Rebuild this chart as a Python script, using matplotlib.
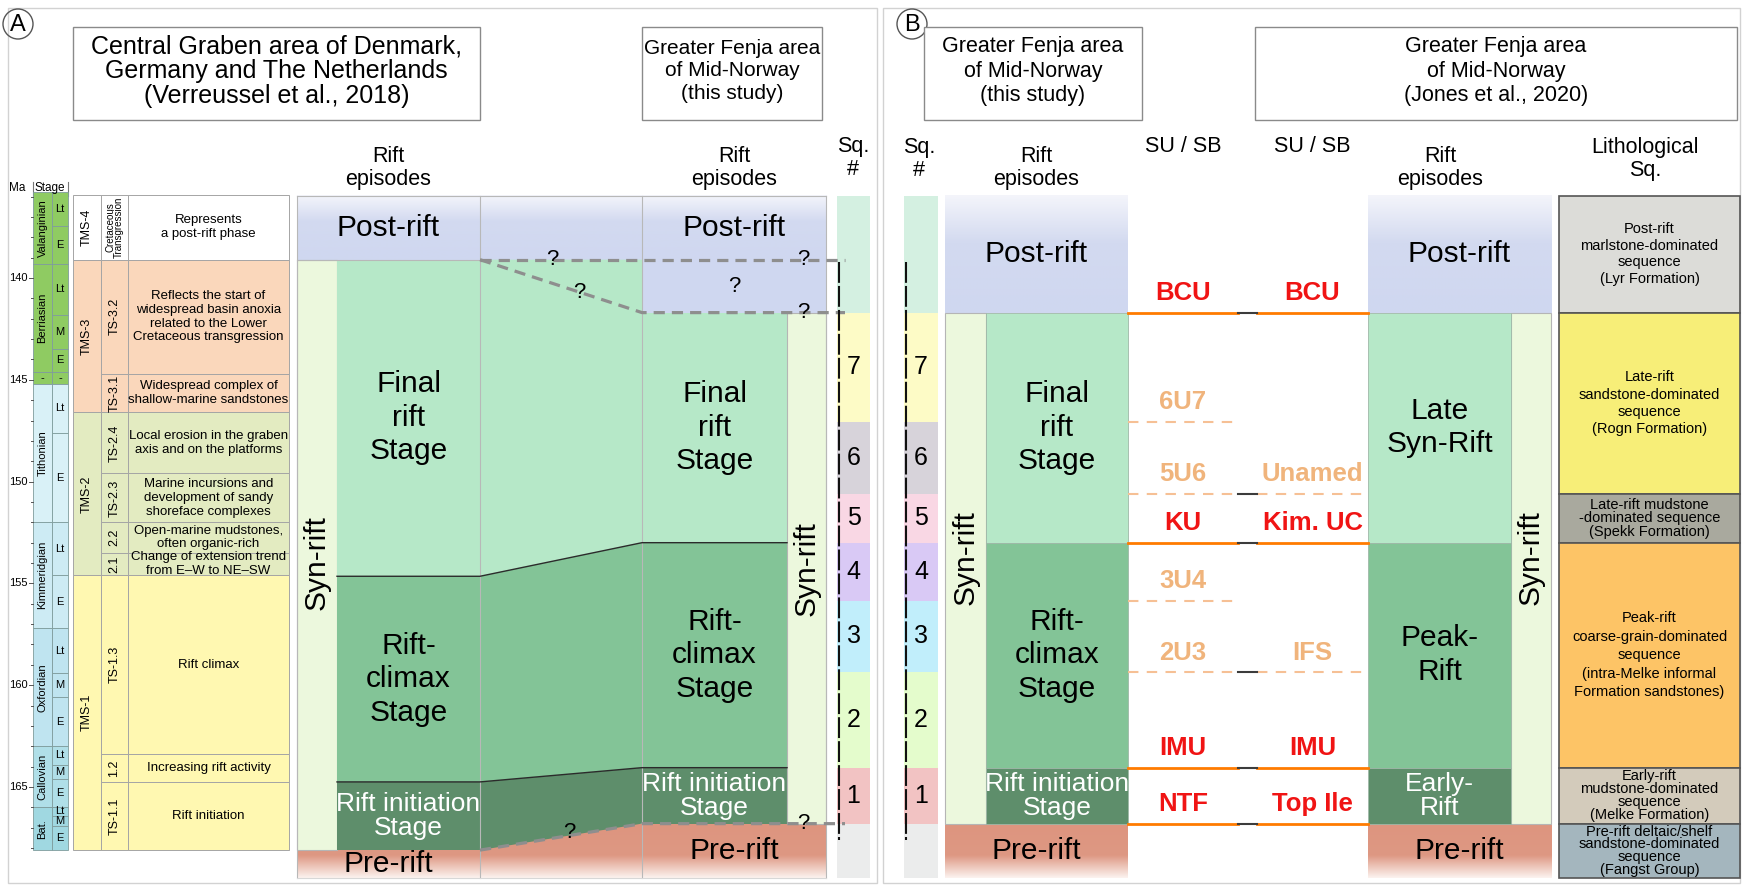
import numpy as np
import matplotlib.pyplot as plt
import matplotlib.transforms as mtransforms
from matplotlib.patches import Rectangle, Polygon, Circle
from matplotlib.colors import to_rgb

plt.rcParams['font.family'] = ['Liberation Sans', 'DejaVu Sans']

# ---------------- data (ages in Ma) ----------------
stage_names = ['Valanginian', 'Berriasian', '-', 'Tithonian', 'Kimmeridgian',
               'Oxfordian', 'Callovian', 'Bat.']
stage_tops = [135.8, 139.3, 144.6, 145.2, 152.0, 157.2, 163.0, 166.0]
stage_colors = ['#8fcb62', '#8fcb62', '#8fcb62', '#d9f1f7', '#cdebf4',
                '#bfe4f0', '#b0dfe8', '#a0d8e1']
sub_names = ['Lt', 'E', 'Lt', 'M', 'E', '-', 'Lt', 'E', 'Lt', 'E',
             'Lt', 'M', 'E', 'Lt', 'M', 'E', 'Lt', 'M', 'E']
sub_tops = [135.8, 137.45, 139.3, 141.8, 143.5, 144.6, 145.2, 147.6, 152.0, 154.6,
            157.2, 159.4, 160.6, 163.0, 163.9, 164.6, 166.0, 166.4, 166.9]
scale_base = 168.1
ma_labels = [140, 145, 150, 155, 160, 165]

tms_names = ['TMS-4', 'TMS-3', 'TMS-2', 'TMS-1']
tms_tops = [135.9, 139.1, 146.6, 154.6]
tms_colors = ['#ffffff', '#fad7bb', '#e3ebc1', '#fff8b1']
ts_names = ['Cretaceous\nTransgression', 'TS-3.2', 'TS-3.1', 'TS-2.4', 'TS-2.3',
            '2.2', '2.1', 'TS-1.3', '1.2', 'TS-1.1']
ts_tops = [135.9, 139.1, 144.7, 146.6, 149.6, 152.0, 153.5, 154.6, 163.4, 164.75]
ts_text = ['Represents\na post-rift phase',
           'Reflects the start of\nwidespread basin anoxia\nrelated to the Lower\nCretaceous transgression',
           'Widespread complex of\nshallow-marine sandstones',
           'Local erosion in the graben\naxis and on the platforms',
           'Marine incursions and\ndevelopment of sandy\nshoreface complexes',
           'Open-marine mudstones,\noften organic-rich',
           'Change of extension trend\nfrom E\u2013W to NE\u2013SW',
           'Rift climax', 'Increasing rift activity', 'Rift initiation']
tms_base = 168.1

ep_labels = ['Post-rift', 'Final\nrift\nStage', 'Rift-\nclimax\nStage',
             'Rift initiation\nStage', 'Pre-rift']
jones_labels = ['Post-rift', 'Late\nSyn-Rift', 'Peak-\nRift', 'Early-\nRift', 'Pre-rift']
ep_colors = ['#cfd7f0', '#b6e8c8', '#83c497', '#5e8e6b', '#dd957f']
syn_color = '#ecf8dd'
cg_tops = [135.95, 139.1, 154.65, 164.75, 168.1]      # Verreussel et al. 2018
fenja_tops = [135.95, 141.7, 153.0, 164.05, 166.8]    # this study / Jones et al. 2020
fenja_uncertain = [139.1, 141.7]
ep_base = 169.45

seq_labels = ['', '7', '6', '5', '4', '3', '2', '1', '']
seq_tops = [135.95, 141.7, 147.05, 150.6, 153.0, 155.85, 159.35, 164.05, 166.8]
seq_colors = ['#d4f0e1', '#fdfbc6', '#d7d3da', '#f9d7e4', '#d9c9f5',
              '#c1eefb', '#e4fccc', '#f2c3c3', '#ebecec']

su_this = ['BCU', '6U7', '5U6', 'KU', '3U4', '2U3', 'IMU', 'NTF']
su_jones = ['BCU', '', 'Unamed', 'Kim. UC', '', 'IFS', 'IMU', 'Top Ile']
su_age = [141.7, 147.05, 150.6, 153.0, 155.85, 159.35, 164.05, 166.8]
su_major = [True, False, False, True, False, False, True, True]

lith_text = ['Post-rift\nmarlstone-dominated\nsequence\n(Lyr Formation)',
             'Late-rift\nsandstone-dominated\nsequence\n(Rogn Formation)',
             'Late-rift mudstone\n-dominated sequence\n(Spekk Formation)',
             'Peak-rift\ncoarse-grain-dominated\nsequence\n(intra-Melke informal\nFormation sandstones)',
             'Early-rift\nmudstone-dominated\nsequence\n(Melke Formation)',
             'Pre-rift deltaic/shelf\nsandstone-dominated\nsequence\n(Fangst Group)']
lith_tops = [135.95, 141.7, 150.6, 153.0, 164.05, 166.8]
lith_colors = ['#dcdcd8', '#f7ee78', '#a9a99e', '#fdc466', '#d3cbbb', '#a4b6be']
lith_spacing = [1.25, 1.3, 0.95, 1.4, 0.9, 0.88]

# ---------------- figure ----------------
W, H = 1742, 890
fig = plt.figure(figsize=(W / 100, H / 100), dpi=100)
ax = fig.add_axes([0, 0, 1, 1])
ax.axis('off')
# pixel coordinates (origin top-left) for the page furniture
pix = mtransforms.Affine2D().scale(1 / W, -1 / H).translate(0, 1) + fig.transFigure


def rect(x0, x1, top, bot, fc, ec='none', lw=0.8, z=2):
    ax.add_patch(Rectangle((x0, top), x1 - x0, bot - top, fc=fc, ec=ec, lw=lw, zorder=z))


def gradient(x0, x1, top, bot, fracs, colors, z=1):
    f = np.linspace(0, 1, 256)
    rgb = np.array([to_rgb(c) for c in colors])
    img = np.stack([np.interp(f, fracs, rgb[:, k]) for k in range(3)], axis=-1)[:, None, :]
    ax.imshow(img, extent=(x0, x1, bot, top), origin='upper', aspect='auto',
              interpolation='bilinear', zorder=z)


def post_rift(x0, x1, top, bot):
    gradient(x0, x1, top, bot, [0, 0.4, 1], ['#f4f5fb', '#d3daf0', '#cfd7f0'])


def pre_rift(x0, x1, top, bot):
    gradient(x0, x1, top, bot, [0, 0.58, 1], ['#dd957f', '#de9883', '#fcf3f0'])


def txt(x, y, s, size, **kw):
    kw.setdefault('ha', 'center')
    kw.setdefault('va', 'center')
    kw.setdefault('zorder', 7)
    ax.text(x, y, s, fontsize=size, **kw)


def mid(a, b):
    return (a + b) / 2


BIG = 21.5

# panel frames, letters, header boxes
for x0, x1 in [(8, 877), (883, 1740)]:
    ax.add_patch(Rectangle((x0, 8), x1 - x0, 875, fill=False, ec='#d2d2d2', lw=1,
                           transform=pix, zorder=0))
for cx, letter in [(18, 'A'), (912, 'B')]:
    ax.add_patch(Circle((cx, 24), 15, fill=False, ec='#555555', lw=1, transform=pix, zorder=8))
    ax.text(cx, 25, letter, fontsize=17, ha='center', va='center', transform=pix, zorder=8)

headers = [((73, 480), 'Central Graben area of Denmark,\nGermany and The Netherlands\n(Verreussel et al., 2018)', 18),
           ((642, 822), 'Greater Fenja area\nof Mid-Norway\n(this study)', 15),
           ((924, 1142), 'Greater Fenja area\nof Mid-Norway\n(this study)', 15.5),
           ((1255, 1737), 'Greater Fenja area\nof Mid-Norway\n(Jones et al., 2020)', 15.5)]
for (x0, x1), s, fs in headers:
    ax.add_patch(Rectangle((x0, 27), x1 - x0, 93, fc='white', ec='#8a8a8a', lw=1,
                           transform=pix, zorder=8))
    ax.text(mid(x0, x1), 71, s, fontsize=fs, linespacing=18.7 / fs, ha='center', va='center',
            transform=pix, zorder=9)

col_titles = [(388, 168, 'Rift\nepisodes'), (734, 168, 'Rift\nepisodes'), (853, 158, 'Sq.\n#'),
              (919, 159, 'Sq.\n#'), (1036, 168, 'Rift\nepisodes'), (1183, 146, 'SU / SB'),
              (1312, 146, 'SU / SB'), (1440, 168, 'Rift\nepisodes'), (1645, 159, 'Lithological\nSq.')]
for x, y, s in col_titles:
    ax.text(x, y, s, fontsize=15.5, linespacing=1.12, ha='center', va='center',
            transform=pix, zorder=9)

# ---------------- geological time scale ----------------
SX = (33, 52, 68)
ax.text(17, 188, 'Ma', fontsize=8.5, ha='center', va='center', transform=pix)
ax.text(50, 188, 'Stage', fontsize=8.5, ha='center', va='center', transform=pix)
for x in (SX[0], SX[2]):
    ax.plot([x, x], [182, 196], color='#777777', lw=0.8, transform=pix)

st_bounds = stage_tops + [scale_base]
for i, name in enumerate(stage_names):
    rect(SX[0], SX[1], st_bounds[i], st_bounds[i + 1], stage_colors[i], ec='#7f9c9c', lw=0.6)
    rot = 0 if len(name) < 2 else 90
    txt(mid(SX[0], SX[1]), mid(st_bounds[i], st_bounds[i + 1]), name, 8, rotation=rot)
sub_bounds = sub_tops + [scale_base]
for i, name in enumerate(sub_names):
    k = np.searchsorted(stage_tops, sub_tops[i], side='right') - 1
    rect(SX[1], SX[2], sub_bounds[i], sub_bounds[i + 1], stage_colors[k], ec='#7f9c9c', lw=0.6)
    txt(mid(SX[1], SX[2]), mid(sub_bounds[i], sub_bounds[i + 1]), name, 8)
for m in range(136, 169):
    major = m in ma_labels
    ax.plot([SX[0] - (4 if major else 2), SX[0]], [m, m], color='#555555', lw=0.7, zorder=3)
    if major:
        txt(SX[0] - 5, m, str(m), 8, ha='right')

# ---------------- TMS table ----------------
TX = (73, 101, 128, 289)
tms_b = tms_tops + [tms_base]
for i, name in enumerate(tms_names):
    rect(TX[0], TX[1], tms_b[i], tms_b[i + 1], tms_colors[i], ec='#a5a5a5', lw=0.7)
    txt(mid(TX[0], TX[1]), mid(tms_b[i], tms_b[i + 1]), name, 9, rotation=90)
ts_b = ts_tops + [tms_base]
for i, name in enumerate(ts_names):
    k = np.searchsorted(tms_tops, ts_tops[i], side='right') - 1
    rect(TX[1], TX[2], ts_b[i], ts_b[i + 1], tms_colors[k], ec='#a5a5a5', lw=0.7)
    rect(TX[2], TX[3], ts_b[i], ts_b[i + 1], tms_colors[k], ec='#a5a5a5', lw=0.7)
    small = '\n' in name
    txt(mid(TX[1], TX[2]), mid(ts_b[i], ts_b[i + 1]), name, 7 if small else 9,
        rotation=90, linespacing=0.85)
    txt(mid(TX[2], TX[3]), mid(ts_b[i], ts_b[i + 1]), ts_text[i], 9.5, linespacing=1.2)

# ---------------- panel A: rift episodes ----------------
CG = (297, 337, 480)
FJ = (642, 787, 826)
SQA = (837, 870)

post_rift(CG[0], FJ[2], cg_tops[0], cg_tops[1])
pre_rift(CG[0], FJ[2], fenja_tops[4], ep_base)
rect(FJ[0], FJ[2], fenja_uncertain[0], fenja_uncertain[1], ep_colors[0])
rect(CG[0], CG[1], cg_tops[1], cg_tops[4], syn_color, ec='#b5b5b5')
for i in (1, 2, 3):
    rect(CG[1], CG[2], cg_tops[i], cg_tops[i + 1], ep_colors[i])
    top_r = fenja_uncertain[0] if i == 1 else fenja_tops[i]
    ax.add_patch(Polygon([(CG[2], cg_tops[i]), (FJ[0], top_r), (FJ[0], fenja_tops[i + 1]),
                          (CG[2], cg_tops[i + 1])], closed=True, fc=ep_colors[i], ec='none', zorder=2))
    rect(FJ[0], FJ[1], fenja_tops[i], fenja_tops[i + 1], ep_colors[i])
rect(FJ[1], FJ[2], fenja_tops[1], fenja_tops[4], syn_color, ec='#b5b5b5')

for x in (CG[0], CG[2], FJ[0], FJ[2]):
    ax.plot([x, x], [cg_tops[0], ep_base], color='#b8b8b8', lw=0.8, zorder=3)
ax.plot([CG[0], FJ[2]], [cg_tops[0]] * 2, color='#b8b8b8', lw=0.8, zorder=3)
ax.plot([CG[0], FJ[2]], [ep_base] * 2, color='#d8d8d8', lw=0.8, zorder=3)
ax.plot([CG[0], CG[2]], [cg_tops[1]] * 2, color='#b8b8b8', lw=0.8, zorder=3)
for i in (2, 3):
    ax.plot([CG[1], CG[2], FJ[0], FJ[1]], [cg_tops[i], cg_tops[i], fenja_tops[i], fenja_tops[i]],
            color='#2b2b2b', lw=1.0, zorder=4)

dash = dict(color='#8e8e8e', lw=2.3, ls=(0, (3.5, 2.2)), zorder=5, solid_capstyle='butt')
ax.plot([CG[2], SQA[0] + 8], [fenja_uncertain[0]] * 2, **dash)
ax.plot([CG[2], FJ[0], SQA[0] + 8], [cg_tops[1], fenja_uncertain[1], fenja_uncertain[1]], **dash)
ax.plot([CG[2], FJ[0], SQA[0] + 8], [cg_tops[4], fenja_tops[4], fenja_tops[4]], **dash)

q = dict(fontsize=16, ha='center', va='center', zorder=7)
ax.text(552, fenja_uncertain[0], '?', **q)
ax.text(579, np.interp(579, [CG[2], FJ[0]], [cg_tops[1], fenja_uncertain[1]]), '?', **q)
ax.text(mid(FJ[0], FJ[2]), mid(*fenja_uncertain), '?', **q)
ax.text(803, fenja_uncertain[0], '?', **q)
ax.text(803, fenja_uncertain[1], '?', **q)
ax.annotate('?', (569, np.interp(569, [CG[2], FJ[0]], [cg_tops[4], fenja_tops[4]])),
            xytext=(0, 2), textcoords='offset points', **q)
ax.text(803, fenja_tops[4], '?', **q)

# labels, Central Graben column
txt(mid(CG[0], CG[2]), mid(cg_tops[0], cg_tops[1]), ep_labels[0], BIG)
txt(mid(CG[0], CG[1]), mid(cg_tops[1], cg_tops[4]) + 0.4, 'Syn-rift', BIG, rotation=90)
for i in (1, 2, 3):
    txt(mid(CG[1], CG[2]), mid(cg_tops[i], cg_tops[i + 1]), ep_labels[i], BIG if i < 3 else 19,
        color='white' if i == 3 else 'black', linespacing=1.25 if i < 3 else 1.0)
txt(mid(CG[0], CG[2]), mid(cg_tops[4], ep_base), ep_labels[4], BIG)
# labels, Fenja column
txt(mid(FJ[0], FJ[2]), mid(fenja_tops[0], fenja_uncertain[0]), ep_labels[0], BIG)
txt(mid(FJ[1], FJ[2]), mid(fenja_tops[1], fenja_tops[4]), 'Syn-rift', BIG, rotation=90)
for i in (1, 2, 3):
    txt(mid(FJ[0], FJ[1]), mid(fenja_tops[i], fenja_tops[i + 1]), ep_labels[i], BIG if i < 3 else 19,
        color='white' if i == 3 else 'black', linespacing=1.25 if i < 3 else 1.0)
txt(mid(FJ[0], FJ[2]), mid(fenja_tops[4], ep_base), ep_labels[4], BIG)


def seq_column(x0, x1):
    b = seq_tops + [ep_base]
    for i, lab in enumerate(seq_labels):
        rect(x0, x1, b[i], b[i + 1], seq_colors[i])
        if lab:
            txt(mid(x0, x1), mid(b[i], b[i + 1]), lab, 18)
    ax.plot([x0 + 1.5] * 2, [fenja_uncertain[0] + 0.1, ep_base - 1.85], color='#111111',
            lw=1.5, ls=(0, (10, 1.5)), zorder=6)


seq_column(*SQA)

# ---------------- panel B ----------------
SQB = (904, 938)
EB = (945, 986, 1128)
SU1 = (1128, 1238)
SU2 = (1257, 1368)
JB = (1368, 1511, 1551)
LI = (1559, 1740)

seq_column(*SQB)


def episode_column(x0, x_syn, x1, labels, syn_left):
    t = fenja_tops
    post_rift(x0, x1, t[0], t[1])
    pre_rift(x0, x1, t[4], ep_base)
    sx0, sx1 = (x0, x_syn) if syn_left else (x_syn, x1)
    bx0, bx1 = (x_syn, x1) if syn_left else (x0, x_syn)
    rect(sx0, sx1, t[1], t[4], syn_color, ec='#b5b5b5')
    for i in (1, 2, 3):
        rect(bx0, bx1, t[i], t[i + 1], ep_colors[i], ec='#9fb8a8', lw=0.6)
        txt(mid(bx0, bx1), mid(t[i], t[i + 1]), labels[i], BIG if i < 3 else 19,
            color='white' if i == 3 else 'black', linespacing=1.25 if i < 3 else 1.0)
    txt(mid(sx0, sx1), mid(t[1], t[4]) - 0.5, 'Syn-rift', BIG, rotation=90)
    txt(mid(x0, x1), mid(t[0], t[1]), labels[0], BIG)
    txt(mid(x0, x1), mid(t[4], ep_base), labels[4], BIG)


episode_column(*EB, ep_labels, True)
episode_column(*JB, jones_labels, False)

for a, b, age, major in zip(su_this, su_jones, su_age, su_major):
    if major:
        style = dict(color='#ff7b00', lw=2.0, zorder=4)
        tc = '#f01414'
    else:
        style = dict(color='#f6c095', lw=1.5, ls=(0, (5, 4)), zorder=4)
        tc = '#f0b47c'
    for (x0, x1), name in [(SU1, a), (SU2, b)]:
        if not name:
            continue
        ax.plot([x0, x1], [age, age], **style)
        ax.annotate(name, (mid(x0, x1), age), xytext=(0, 14), textcoords='offset points',
                    ha='center', va='center', fontsize=18.5, fontweight='bold', color=tc, zorder=7)
    if a and b:
        ax.plot([SU1[1], SU2[0]], [age, age], color='#3c3c3c', lw=1.5, zorder=4)

lb = lith_tops + [ep_base]
for i, s in enumerate(lith_text):
    rect(LI[0], LI[1], lb[i], lb[i + 1], lith_colors[i], ec='#555555', lw=1.2)
    txt(mid(*LI), mid(lb[i], lb[i + 1]), s, 10.5, linespacing=lith_spacing[i])

ax.set_xlim(0, W)
ax.set_ylim(140 + 612 / 20.36, 140 - 278 / 20.36)
fig.savefig('out.png', dpi=100)
